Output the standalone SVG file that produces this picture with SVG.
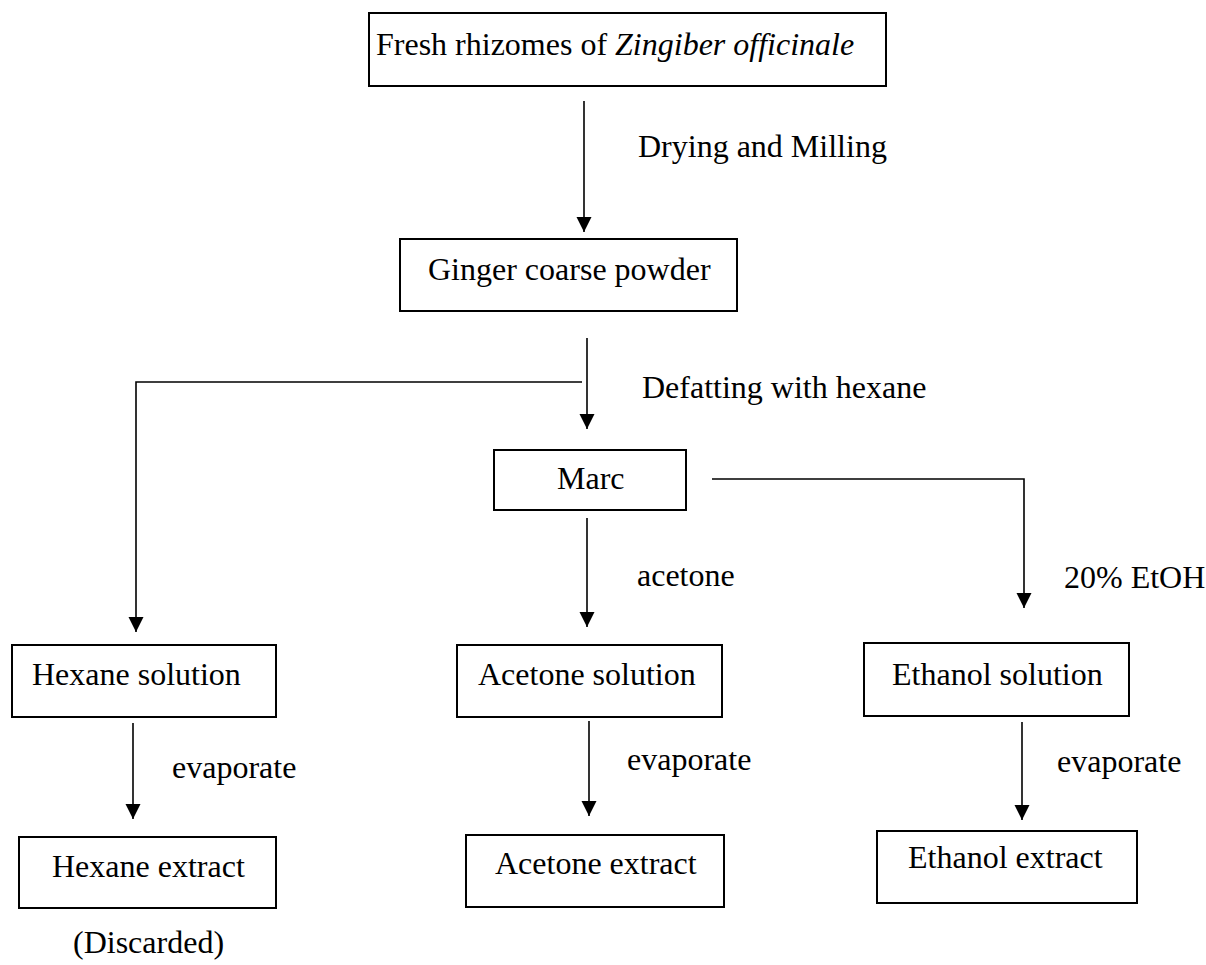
<svg xmlns="http://www.w3.org/2000/svg" width="1206" height="965" viewBox="0 0 1206 965">
<style>
.box{fill:#fff;stroke:#000;stroke-width:2}
.t{font-family:"Liberation Serif","Times New Roman",serif;font-size:32px;fill:#000}
.c{fill:none;stroke:#000;stroke-width:1.6}
</style>
<defs>
<marker id="ah" markerWidth="16" markerHeight="16" refX="15" refY="7.5" orient="auto" markerUnits="userSpaceOnUse">
<path d="M0,0 L15,7.5 L0,15 z" fill="#000"/>
</marker>
</defs>
<rect width="1206" height="965" fill="#fff"/>
<g id="n-fresh"><rect class="box" x="369" y="13" width="517" height="73"/><text class="t" x="376" y="55">Fresh rhizomes of <tspan font-style="italic">Zingiber officinale</tspan></text></g>
<g id="n-powder"><rect class="box" x="400" y="239" width="337" height="72"/><text class="t" x="428" y="280">Ginger coarse powder</text></g>
<g id="n-marc"><rect class="box" x="494" y="450" width="192" height="60"/><text class="t" x="557" y="489">Marc</text></g>
<g id="n-hexsol"><rect class="box" x="12" y="645" width="264" height="72"/><text class="t" x="32" y="685">Hexane solution</text></g>
<g id="n-acesol"><rect class="box" x="457" y="645" width="265" height="72"/><text class="t" x="478" y="685">Acetone solution</text></g>
<g id="n-ethsol"><rect class="box" x="864" y="643" width="265" height="73"/><text class="t" x="892" y="685">Ethanol solution</text></g>
<g id="n-hexext"><rect class="box" x="19" y="837" width="257" height="71"/><text class="t" x="52" y="877">Hexane extract</text><text class="t" x="73" y="953">(Discarded)</text></g>
<g id="n-aceext"><rect class="box" x="466" y="835" width="258" height="72"/><text class="t" x="495" y="874">Acetone extract</text></g>
<g id="n-ethext"><rect class="box" x="877" y="831" width="260" height="72"/><text class="t" x="908" y="868">Ethanol extract</text></g>
<g id="connectors">
<path class="c" d="M584,101 V232" marker-end="url(#ah)"/>
<path class="c" d="M587,338 V429" marker-end="url(#ah)"/>
<path class="c" d="M582,382 H136 V632" marker-end="url(#ah)"/>
<path class="c" d="M587,518 V627" marker-end="url(#ah)"/>
<path class="c" d="M712,479 H1024 V608" marker-end="url(#ah)"/>
<path class="c" d="M133,723 V819" marker-end="url(#ah)"/>
<path class="c" d="M589,721 V816" marker-end="url(#ah)"/>
<path class="c" d="M1022,722 V820" marker-end="url(#ah)"/>
</g>
<g id="labels">
<text class="t" x="638" y="157">Drying and Milling</text>
<text class="t" x="642" y="398">Defatting with hexane</text>
<text class="t" x="637" y="586">acetone</text>
<text class="t" x="1064" y="588">20% EtOH</text>
<text class="t" x="172" y="778">evaporate</text>
<text class="t" x="627" y="770">evaporate</text>
<text class="t" x="1057" y="772">evaporate</text>
</g>
</svg>
